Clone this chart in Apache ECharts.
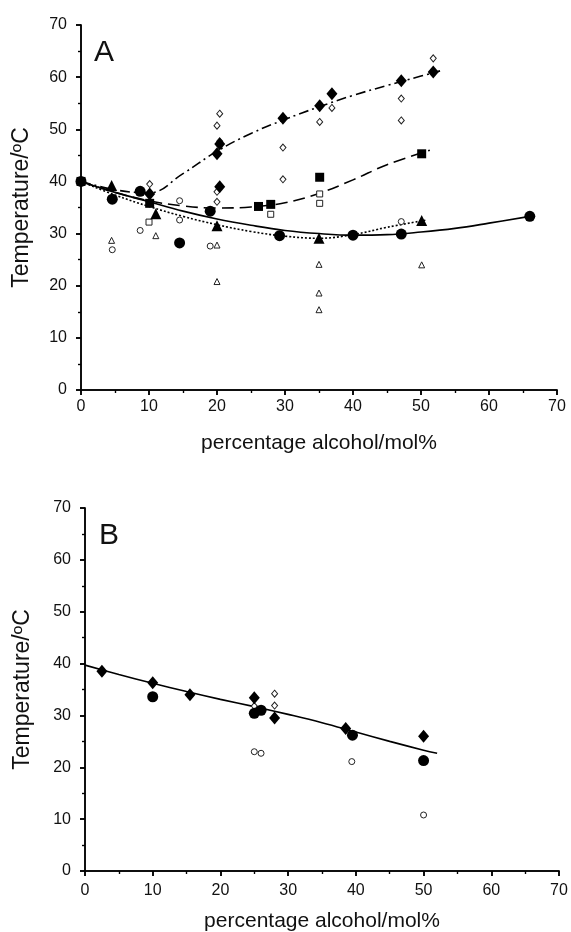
<!DOCTYPE html>
<html><head><meta charset="utf-8">
<script src="https://cdn.jsdelivr.net/npm/echarts@6/dist/echarts.min.js"></script>
<style>html,body{margin:0;padding:0;background:#fff}#c{width:571px;height:932px}</style>
</head><body><div id="c"></div>
<script>
// ---------- Panel A data ----------
const xTicks = [0,10,20,30,40,50,60,70];
const yTicks = [0,10,20,30,40,50,60,70];
const aFilledCircles = [[0,40],[4.6,36.6],[8.7,38.1],[14.5,28.2],[19,34.3],[29.2,29.6],[40,29.7],[47.1,29.9],[66,33.3]];
const aOpenCircles = [[4.6,26.9],[8.7,30.6],[14.5,36.3],[14.5,32.6],[19,27.6],[47.1,32.3]];
const aFilledTriangles = [[4.5,39.2],[11,33.8],[20,31.5],[35,29.1],[50.1,32.5]];
const aOpenTriangles = [[4.5,28.7],[11,29.6],[20,27.8],[20,20.8],[35,24.1],[35,18.6],[35,15.4],[50.1,24]];
const aFilledSquares = [[0,40],[10.1,35.8],[26.1,35.2],[27.9,35.6],[35.1,40.8],[50.1,45.3]];
const aOpenSquares = [[10,32.2],[27.9,33.7],[35.1,37.6],[35.1,35.8]];
const aFilledDiamonds = [[10.1,37.6],[20,45.3],[20.4,47.2],[20.4,39],[29.7,52.1],[35.1,54.5],[36.9,56.8],[47.1,59.3],[51.8,61]];
const aOpenDiamonds = [[10.1,39.5],[20.4,53],[20,50.7],[20.4,47.7],[20,38],[20,36.1],[29.7,46.5],[29.7,40.4],[35.1,51.4],[36.9,54.1],[47.1,55.9],[47.1,51.7],[51.8,63.6]];
// fitted curves
const aSolidX = [0,5,10,15,20,25,30,35,40,45,50,55,60,66];
const aSolidY = [40,37.9,36.1,34.3,32.8,31.6,30.6,30.0,29.7,29.8,30.3,31.0,32.0,33.3];
const aDottedX = [0,5,10,15,20,25,30,35,40,45,50.8];
const aDottedY = [40,37.4,35.2,33.3,31.7,30.4,29.5,29.1,29.8,31.2,32.6];
const aDashedX = [0,5,10,15,20,25,30,35,40,45,51.3];
const aDashedY = [40,37.9,36.3,35.3,34.9,35.1,35.9,37.7,40.3,43.2,46.0];
const aDashDotX = [0,5,10,15,20,25,30,35,40,45,50,52.8];
const aDashDotY = [40,38.4,37.8,41.5,45.8,49.2,51.9,54.3,56.5,58.4,60.2,61.2];
// ---------- Panel B data ----------
const bFilledDiamonds = [[2.5,38.5],[10,36.3],[15.5,34],[25,33.4],[28,29.5],[38.5,27.5],[50,26]];
const bFilledCircles = [[10,33.6],[25,30.4],[26,31],[39.5,26.2],[50,21.3]];
const bOpenCircles = [[25,23],[26,22.7],[39.4,21.1],[50,10.8]];
const bOpenDiamonds = [[25,31.8],[28,34.2],[28,31.9]];
const bLineX = [0,5,10,15,20,25,30,35,40,45,50,52];
const bLineY = [39.7,37.9,36.2,34.6,33.1,31.7,30.2,28.6,26.8,25.0,23.3,22.7];

const FONT = 'Liberation Sans, Arial, sans-serif';
const zip = (xs, ys) => xs.map((x, i) => [x, ys[i]]);

function axesFor(gi, yNameGap, xLabelMargin, xNameGap) {
  const common = {min: 0, max: 70, interval: 10, gridIndex: gi,
    axisLine: {lineStyle: {color: '#000', width: 1.5}},
    splitLine: {show: false},
    minorTick: {show: true, splitNumber: 2, length: 3, lineStyle: {color: '#000', width: 1.2}},
    axisTick: {length: 5, lineStyle: {color: '#000', width: 1.5}}};
  const lbl = {color: '#111', fontSize: 16, fontFamily: FONT};
  return {
    x: [
      Object.assign({}, common, {type: 'value', position: 'bottom',
        axisLabel: Object.assign({margin: xLabelMargin}, lbl),
        name: 'percentage alcohol/mol%', nameLocation: 'middle', nameGap: xNameGap,
        nameTextStyle: {color: '#111', fontSize: 21, fontFamily: FONT}}),
      Object.assign({}, common, {type: 'value', position: 'top',
        axisLabel: {show: false},
        axisTick: {inside: true, length: 5, lineStyle: {color: '#000', width: 1.5}}})
    ],
    y: [
      Object.assign({}, common, {type: 'value', position: 'left',
        axisLabel: Object.assign({margin: 14}, lbl),
        name: 'Temperature/ºC', nameLocation: 'middle', nameGap: yNameGap,
        nameTextStyle: {color: '#111', fontSize: 23, fontFamily: FONT}}),
      Object.assign({}, common, {type: 'value', position: 'right',
        axisLabel: {show: false},
        axisTick: {inside: true, length: 5, lineStyle: {color: '#000', width: 1.5}}})
    ]
  };
}
const axA = axesFor(0, 48, 9, 43), axB = axesFor(1, 51, 12, 40);

function sc(data, symbol, size, filled, xi, yi) {
  return {type: 'scatter', xAxisIndex: xi, yAxisIndex: yi, data: data, symbol: symbol, symbolSize: size,
    z: filled ? 4 : 3, silent: true,
    itemStyle: filled ? {color: '#000', opacity: 1} : {color: '#fff', borderColor: '#222', borderWidth: 1, opacity: 1}};
}
function ln(xs, ys, type, xi, yi) {
  return {type: 'line', xAxisIndex: xi, yAxisIndex: yi, data: zip(xs, ys), smooth: 0.4, showSymbol: false, symbol: 'none',
    z: 2, silent: true, lineStyle: {color: '#000', width: 1.6, type: type}};
}

const option = {
  animation: false,
  backgroundColor: '#fff',
  grid: [
    {left: 81, top: 25, width: 476, height: 365, containLabel: false, outerBoundsMode: 'none'},
    {left: 85, top: 508, width: 474, height: 363, containLabel: false, outerBoundsMode: 'none'}
  ],
  xAxis: [axA.x[0], axA.x[1], axB.x[0], axB.x[1]],
  yAxis: [axA.y[0], axA.y[1], axB.y[0], axB.y[1]],
  graphic: [
    {type: 'text', left: 94, top: 38, style: {text: 'A', fontSize: 30, fontFamily: FONT, fill: '#111'}},
    {type: 'text', left: 99, top: 521, style: {text: 'B', fontSize: 30, fontFamily: FONT, fill: '#111'}}
  ],
  series: [
    ln(aSolidX, aSolidY, 'solid', 0, 0),
    ln(aDottedX, aDottedY, [2, 2], 0, 0),
    ln(aDashedX, aDashedY, [12, 6], 0, 0),
    ln(aDashDotX, aDashDotY, [10, 4, 2, 4], 0, 0),
    sc(aOpenCircles, 'circle', 6, false, 0, 0),
    sc(aOpenTriangles, 'triangle', 6, false, 0, 0),
    sc(aOpenSquares, 'rect', 6, false, 0, 0),
    sc(aOpenDiamonds, 'diamond', [6, 7], false, 0, 0),
    sc(aFilledCircles, 'circle', 11, true, 0, 0),
    sc(aFilledTriangles, 'triangle', 11, true, 0, 0),
    sc(aFilledSquares, 'rect', 9, true, 0, 0),
    sc(aFilledDiamonds, 'diamond', [11, 13], true, 0, 0),
    ln(bLineX, bLineY, 'solid', 2, 2),
    sc(bOpenCircles, 'circle', 6, false, 2, 2),
    sc(bOpenDiamonds, 'diamond', [6, 7], false, 2, 2),
    sc(bFilledCircles, 'circle', 11, true, 2, 2),
    sc(bFilledDiamonds, 'diamond', [11, 13], true, 2, 2)
  ]
};
echarts.init(document.getElementById('c'), null, {renderer: 'canvas'}).setOption(option);
</script></body></html>
